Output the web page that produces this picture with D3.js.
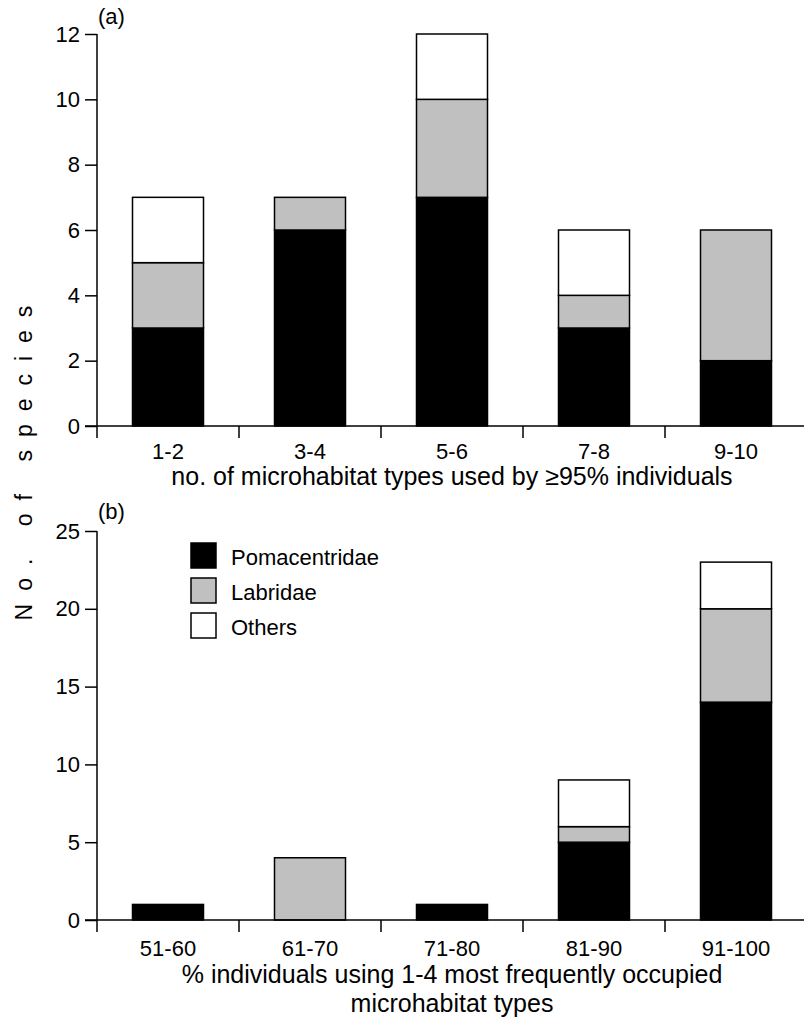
<!DOCTYPE html>
<html><head><meta charset="utf-8">
<script src="https://cdn.jsdelivr.net/npm/d3@7"></script>
<style>
html,body{margin:0;padding:0;background:#fff;}
svg text{font-family:"Liberation Sans",Arial,sans-serif;fill:#000;}
</style></head>
<body>
<svg id="chart" width="804" height="1022"></svg>
<script>
const seriesNames = ["Pomacentridae","Labridae","Others"];
const seriesColors = ["#000000","#c0c0c0","#ffffff"];

const catsA = ["1-2","3-4","5-6","7-8","9-10"];
const pomA = [3,6,7,3,2];
const labA = [2,1,3,1,4];
const othA = [2,0,2,2,0];
const ticksA = [0,2,4,6,8,10,12];

const catsB = ["51-60","61-70","71-80","81-90","91-100"];
const pomB = [1,0,1,5,14];
const labB = [0,4,0,1,6];
const othB = [0,0,0,3,3];
const ticksB = [0,5,10,15,20,25];

const svg = d3.select("#chart");
const FS = 22;   // tick labels, legend
const TFS = 25;  // axis titles

function panel(cats, pom, lab, oth, ticks, ymax, top, bottom, tag, tagY, titleLines, titleY, tickLabelY){
  const x = d3.scaleBand().domain(cats).range([97, 807]).paddingInner(0.5).paddingOuter(0.25);
  const y = d3.scaleLinear().domain([0, ymax]).range([bottom, top]);
  const rows = cats.map((c,i)=>({cat:c, Pomacentridae:pom[i], Labridae:lab[i], Others:oth[i]}));
  const stack = d3.stack().keys(seriesNames)(rows);
  const g = svg.append("g");
  stack.forEach((layer,k)=>{
    g.selectAll(null).data(layer.filter(d=>d[1]-d[0]>0)).enter().append("rect")
      .attr("x", d=>x(d.data.cat))
      .attr("width", x.bandwidth())
      .attr("y", d=>y(d[1]))
      .attr("height", d=>y(d[0])-y(d[1]))
      .attr("fill", seriesColors[k])
      .attr("stroke","#000").attr("stroke-width",1.5);
  });
  // y axis
  const ya = g.append("g").attr("transform","translate(97,0)")
    .call(d3.axisLeft(y).tickValues(ticks).tickSize(12).tickSizeOuter(0).tickPadding(5));
  ya.select(".domain").remove();
  ya.selectAll(".tick line").attr("stroke","#000").attr("stroke-width",1.5);
  ya.selectAll("text").attr("font-size",FS).attr("font-family","Liberation Sans, Arial, sans-serif");
  g.append("line").attr("x1",97).attr("x2",97).attr("y1",y(ymax)).attr("y2",bottom+12)
    .attr("stroke","#000").attr("stroke-width",1.5);
  // x axis
  const step = x.step();
  const bounds = d3.range(cats.length+1).map(i=>97+i*step);
  g.append("line").attr("x1",85).attr("x2",807).attr("y1",bottom).attr("y2",bottom)
    .attr("stroke","#000").attr("stroke-width",1.5);
  g.selectAll(null).data(bounds.slice(1)).enter().append("line")
    .attr("x1",d=>d).attr("x2",d=>d).attr("y1",bottom).attr("y2",bottom+12)
    .attr("stroke","#000").attr("stroke-width",1.5);
  g.selectAll(null).data(cats).enter().append("text")
    .attr("x",d=>x(d)+x.bandwidth()/2).attr("y",tickLabelY)
    .attr("text-anchor","middle").attr("font-size",FS).text(d=>d);
  titleLines.forEach((t,i)=>{
    g.append("text").attr("x",452).attr("y",titleY+i*29).attr("text-anchor","middle")
      .attr("font-size",TFS).text(t);
  });
  g.append("text").attr("x",98).attr("y",tagY).attr("font-size",22).text(tag);
  return {x,y};
}

panel(catsA,pomA,labA,othA,ticksA,12,34,426,"(a)",24,
  ["no. of microhabitat types used by \u226595% individuals"],485,459);
panel(catsB,pomB,labB,othB,ticksB,25,531,920,"(b)",518.5,
  ["% individuals using 1-4 most frequently occupied","microhabitat types"],983,956);

// legend
const leg = svg.append("g").attr("transform","translate(191,543)");
seriesNames.forEach((n,i)=>{
  leg.append("rect").attr("x",0).attr("y",i*35).attr("width",25).attr("height",25)
    .attr("fill",seriesColors[i]).attr("stroke","#000").attr("stroke-width",1.5);
  leg.append("text").attr("x",40).attr("y",i*35+21.5).attr("font-size",FS).text(n);
});

// y label
svg.append("text").attr("transform","translate(32,463) rotate(-90)")
  .attr("text-anchor","middle").attr("font-size",23).attr("letter-spacing","13px")
  .attr("dx",6.5)
  .text("No. of species");
</script>
</body></html>
